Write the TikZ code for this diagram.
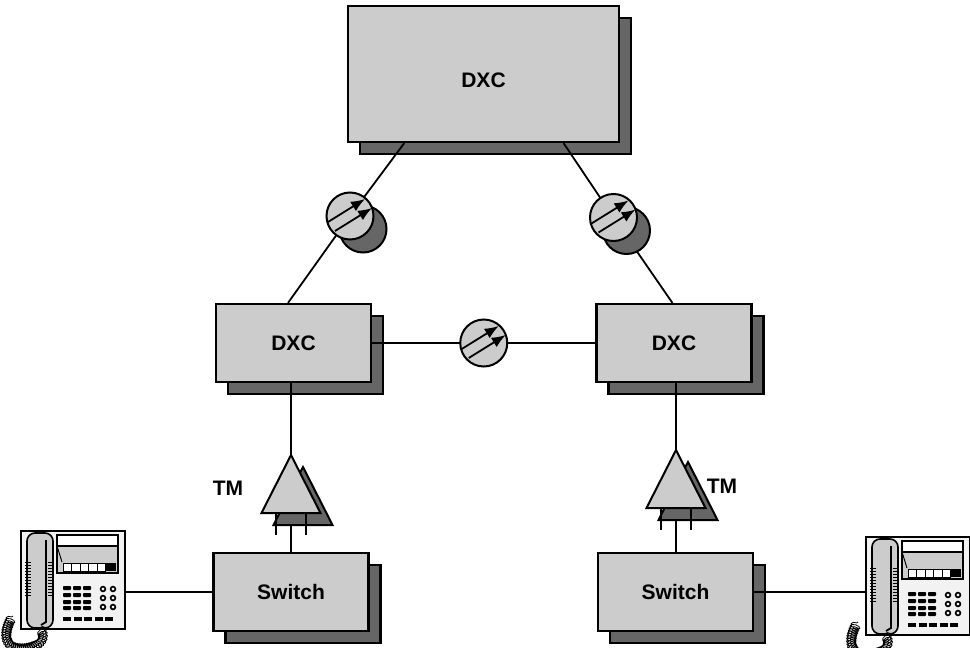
\documentclass[tikz,border=0pt]{standalone}
\usepackage{fontspec}
\setsansfont{Liberation Sans}
\usetikzlibrary{calc,shadows,arrows.meta,decorations.pathmorphing}

\definecolor{boxgray}{HTML}{CCCCCC}
\definecolor{shadowgray}{HTML}{666666}

\pgfdeclarelayer{front}
\pgfsetlayers{main,front}

\tikzset{
  link/.style={line width=1.8pt},
  lbl/.style={font=\sffamily\bfseries\fontsize{21}{24}\selectfont},
  unit/.style={lbl, draw, line width=2.2pt, fill=boxgray, inner sep=0pt,
    minimum width=155pt, minimum height=78pt,
    general shadow={shadow xshift=12pt, shadow yshift=-12pt, fill=shadowgray, draw=black}},
  regen/.style={circle, draw, line width=2pt, fill=boxgray, minimum size=47pt, inner sep=0pt},
  shadowed/.style={general shadow={shadow xshift=13pt, shadow yshift=-13pt, fill=shadowgray, draw=black}},
  beam/.style={line width=1.8pt, -{Latex[length=14pt,width=11pt]}},
  % terminal multiplexer, origin at the apex
  tmunit/.pic={
    \draw[line width=2pt, fill=shadowgray] (12,12) -- ++(-29.5,58) -- ++(59,0) -- cycle;
    \draw[line width=2pt, fill=boxgray] (0,0) coordinate (-apex) -- (-29.5,58) -- (29.5,58) -- cycle;
    \coordinate (-base) at (0,58);
    \draw[link] (-15,58) -- (-15,80) (15,58) -- (15,80);
  },
  % desk telephone, origin at the top left corner
  phone/.pic={
    \coordinate (-nw) at (0,0);
    \coordinate (-ne) at (104,0);
    \draw[line width=1.6pt, fill=gray!10] (0,0) rectangle (104,98);
    % handset
    \draw[line width=1.6pt, fill=boxgray, rounded corners=8pt] (6,2) rectangle (32,97);
    \draw[line width=1.8pt] (25,9) -- (25,91) -- (20,94);
    \foreach \r in {31,34,...,64}
      \draw[line width=0.9pt] (4,\r) -- (10,\r) (27,\r) -- (33,\r);
    % display
    \draw[line width=1.4pt, fill=white] (36,4) rectangle (97,42);
    \draw[line width=1.4pt, fill=boxgray] (36,15) rectangle (97,42);
    \draw[line width=1pt] (36,15) -- (41,31);
    \foreach \k in {0,...,4}
      \draw[line width=0.9pt, fill=white] ({42+\k*8.5},32) rectangle ++(8.5,8);
    \fill (84.5,32) rectangle (95,40);
    % keypad
    \foreach \row in {57,64,71,77}
      \foreach \col in {42,52,62}
        \fill[rounded corners=0.8pt] (\col,\row-2) rectangle ++(8,4);
    \foreach \row in {58,67,76}
      \foreach \col in {82,92}
        \draw[line width=1.6pt] (\col,\row) circle (2.4);
    \foreach \col in {42,52.5,63,73.5,84}
      \fill (\col,86) rectangle ++(8,4);
    % coiled cord
    \draw[line width=0.8pt, decorate, decoration={coil, amplitude=5pt, segment length=2.2pt}]
      (18,97) .. controls (30,112) and (5,121) .. (-7,116) .. controls (-17,111) and (-16,97) .. (-8,85);
  }
}

\begin{document}
\begin{tikzpicture}[x=1pt,y=-1pt]
\path[use as bounding box, fill=white] (0,0) rectangle (970,648);

% cross-connects and switches
\node[unit, minimum width=271pt, minimum height=136pt, text height=27pt] (dxcT) at (483.5,74) {DXC};
\node[unit] (dxcL) at (293.5,343) {DXC};
\node[unit] (dxcR) at (674,343) {DXC};
\node[unit] (swL) at (291,592) {Switch};
\node[unit] (swR) at (675.5,592) {Switch};

\pic (phL) at (21,531) {phone};
\pic (phR) at (866,537) {phone};

\node[lbl] (tmLlbl) at (228,488) {TM};
\node[lbl] (tmRlbl) at (722,486) {TM};

\begin{pgfonlayer}{front}
\node[regen, shadowed] (cL) at (350,216) {};
\node[regen, shadowed] (cR) at (613.5,217.5) {};
\node[regen] (cM) at ($(dxcL.east)!.5!(dxcR.west)$) {};
\foreach \c in {cL,cR,cM} {
  \draw[beam] ($(\c)+(-22,6)$) -- ($(\c)+(15,-17)$);
  \draw[beam] ($(\c)+(-15,15)$) -- ($(\c)+(22,-8)$);
}
\pic (tmL) at (291,455) {tmunit};
\pic (tmR) at (676,450) {tmunit};
\end{pgfonlayer}

% links
\draw[link] ($(dxcT.south west)!.21!(dxcT.south east)$) -- (cL.center)
  -- ($(dxcL.north west)!.465!(dxcL.north east)$);
\draw[link] ($(dxcT.south west)!.793!(dxcT.south east)$) -- (cR.center)
  -- ($(dxcR.north west)!.49!(dxcR.north east)$);
\draw[link] (dxcL.east) -- (cM.center) -- (dxcR.west);
\draw[link] (tmL-apex |- dxcL.south) -- (tmL-apex);
\draw[link] (tmR-apex |- dxcR.south) -- (tmR-apex);
\draw[link] (tmL-base) -- (tmL-base |- swL.north);
\draw[link] (tmR-base) -- (tmR-base |- swR.north);
\draw[link] (swL.west) -- (swL.west -| phL-ne);
\draw[link] (swR.east) -- (swR.east -| phR-nw);
\end{tikzpicture}
\end{document}
